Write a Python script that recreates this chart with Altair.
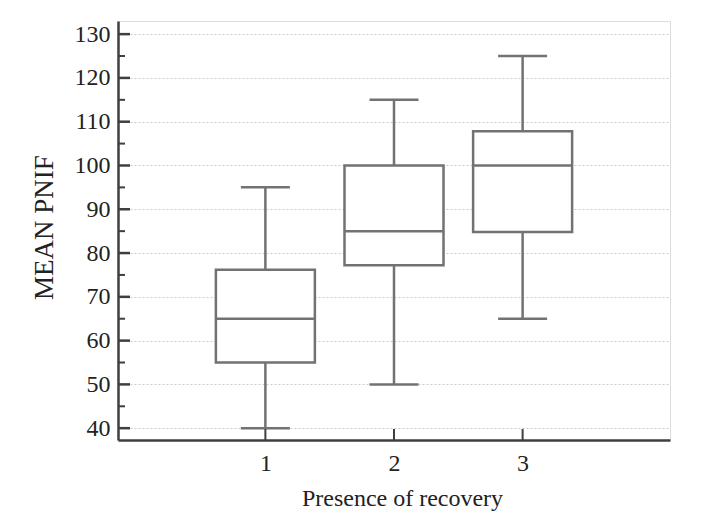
import altair as alt
import pandas as pd

# ---- data ----
groups = [1, 2, 3]
whisker_low = [40, 50, 65]
q1 = [55, 77.2, 84.8]
median = [65, 85, 100]
q3 = [76.2, 100, 107.8]
whisker_high = [95, 115, 125]

y_major = [40, 50, 60, 70, 80, 90, 100, 110, 120, 130]
y_minor = [45, 55, 65, 75, 85, 95, 105, 115, 125]
x_ticks = [1, 2, 3]

df = pd.DataFrame({
    "group": groups, "low": whisker_low, "q1": q1,
    "median": median, "q3": q3, "high": whisker_high,
})
major_df = pd.DataFrame({"v": y_major})
minor_df = pd.DataFrame({"v": y_minor})
xt_df = pd.DataFrame({"g": x_ticks})

W, H = 552, 419
FONT = "Liberation Serif"
BOX = "#727272"
AX = "#3f3f3f"
SW = 2.5

xscale = alt.Scale(domain=[-0.107, 4.107], nice=False, zero=False)
yscale = alt.Scale(domain=[37.3, 133], nice=False, zero=False)

xaxis = alt.Axis(
    values=x_ticks, format="d", title="Presence of recovery",
    ticks=False, tickSize=0, grid=False,
    domainColor=AX, domainWidth=SW,
    labelFont=FONT, labelFontSize=24, labelColor="#222", labelPadding=11,
    titleFont=FONT, titleFontSize=24, titleFontWeight="normal", titleColor="#222",
    titleX=284, titleY=65, titleBaseline="alphabetic",
)
yaxis = alt.Axis(
    values=y_major, title="MEAN PNIF",
    ticks=False, tickSize=0,
    grid=True, gridColor="#bdbdbd", gridDash=[2, 2], gridWidth=0.8,
    domainColor=AX, domainWidth=SW,
    labelFont=FONT, labelFontSize=24, labelColor="#222", labelPadding=8,
    titleFont=FONT, titleFontSize=27, titleFontWeight="normal", titleColor="#222",
    titleAngle=270, titleBaseline="alphabetic", titleAlign="center",
    titleX=-66, titleY=206,
)

base = alt.Chart(df)

whisk_lo = base.mark_rule(color=BOX, strokeWidth=SW).encode(
    x=alt.X("group:Q", scale=xscale, axis=xaxis),
    y=alt.Y("low:Q", scale=yscale, axis=yaxis),
    y2="q1:Q",
)
whisk_hi = base.mark_rule(color=BOX, strokeWidth=SW).encode(
    x=alt.X("group:Q", scale=xscale),
    y=alt.Y("q3:Q", scale=yscale),
    y2="high:Q",
)
box = base.mark_bar(size=99, fill="white", stroke=BOX, strokeWidth=SW).encode(
    x=alt.X("group:Q", scale=xscale),
    y=alt.Y("q1:Q", scale=yscale),
    y2="q3:Q",
)
med = base.mark_tick(orient="horizontal", size=99, thickness=SW, color=BOX, opacity=1).encode(
    x=alt.X("group:Q", scale=xscale),
    y=alt.Y("median:Q", scale=yscale),
)
cap_lo = base.mark_tick(orient="horizontal", size=49, thickness=SW, color=BOX, opacity=1).encode(
    x=alt.X("group:Q", scale=xscale),
    y=alt.Y("low:Q", scale=yscale),
)
cap_hi = base.mark_tick(orient="horizontal", size=49, thickness=SW, color=BOX, opacity=1).encode(
    x=alt.X("group:Q", scale=xscale),
    y=alt.Y("high:Q", scale=yscale),
)

maj = alt.Chart(major_df).mark_rule(color=AX, strokeWidth=2.5).encode(
    y=alt.Y("v:Q", scale=yscale), x=alt.value(0), x2=alt.value(12),
)
mnr = alt.Chart(minor_df).mark_rule(color=AX, strokeWidth=2).encode(
    y=alt.Y("v:Q", scale=yscale), x=alt.value(0), x2=alt.value(7),
)
xt = alt.Chart(xt_df).mark_rule(color=AX, strokeWidth=2).encode(
    x=alt.X("g:Q", scale=xscale), y=alt.value(H), y2=alt.value(H - 11),
)

chart = alt.layer(
    whisk_lo, whisk_hi, box, med, cap_lo, cap_hi, maj, mnr, xt
).properties(
    width=W, height=H,
    autosize=alt.AutoSizeParams(type="none"),
    padding={"left": 110, "top": 13, "right": 27, "bottom": 76},
).configure_view(stroke=None).configure(background="white")

chart.save("out.html", embed_options={"renderer": "svg", "actions": False})
